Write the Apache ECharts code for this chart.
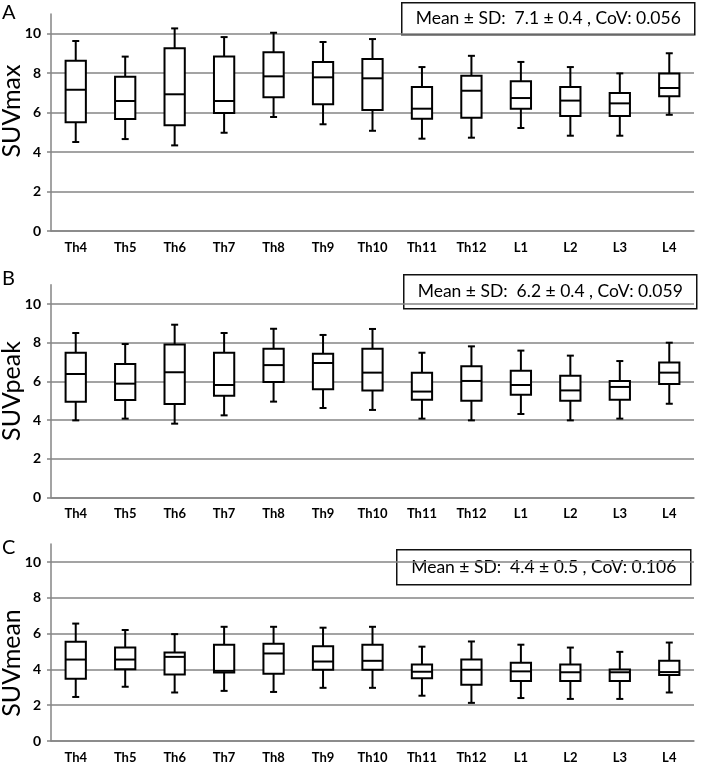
<!DOCTYPE html>
<html>
<head>
<meta charset="utf-8">
<script src="https://cdn.jsdelivr.net/npm/echarts@6/dist/echarts.min.js"></script>
<style>html,body{margin:0;padding:0;background:#fff;}#c{width:709px;height:764px;}</style>
</head>
<body>
<div id="c"></div>
<script>
const categories = ['Th4','Th5','Th6','Th7','Th8','Th9','Th10','Th11','Th12','L1','L2','L3','L4'];
const yTicks = [0, 2, 4, 6, 8, 10];
// each row: [min, Q1, median, Q3, max]
const suvMax = [
  [4.51,5.51,7.16,8.63,9.63],[4.66,5.68,6.59,7.82,8.84],[4.34,5.36,6.93,9.26,10.27],
  [4.98,5.98,6.59,8.84,9.83],[5.78,6.78,7.84,9.06,10.05],[5.41,6.42,7.79,8.57,9.58],
  [5.08,6.13,7.74,8.72,9.73],[4.68,5.69,6.20,7.30,8.31],[4.73,5.74,7.11,7.87,8.88],
  [5.22,6.20,6.74,7.59,8.57],[4.83,5.83,6.61,7.30,8.31],[4.83,5.83,6.47,6.99,7.99],
  [5.89,6.83,7.25,7.99,9.01]
];
const suvPeak = [
  [3.98,4.95,6.38,7.48,8.50],[4.07,5.03,5.88,6.90,7.93],[3.81,4.83,6.47,7.91,8.93],
  [4.24,5.26,5.81,7.48,8.50],[4.95,5.97,6.84,7.69,8.72],[4.62,5.59,6.95,7.43,8.40],
  [4.52,5.53,6.45,7.69,8.71],[4.07,5.05,5.47,6.45,7.48],[3.98,5.00,6.02,6.78,7.81],
  [4.31,5.31,5.81,6.55,7.59],[3.98,5.00,5.53,6.29,7.33],[4.07,5.05,5.71,6.02,7.05],
  [4.84,5.86,6.45,6.98,8.00]
];
const suvMean = [
  [2.46,3.48,4.55,5.54,6.56],[3.03,4.01,4.55,5.22,6.20],[2.71,3.71,4.70,4.95,5.97],
  [2.80,3.82,3.92,5.38,6.38],[2.74,3.76,4.89,5.43,6.38],[2.97,3.98,4.44,5.30,6.33],
  [2.97,3.98,4.48,5.38,6.38],[2.53,3.51,3.87,4.27,5.27],[2.13,3.14,3.98,4.55,5.56],
  [2.40,3.35,3.89,4.37,5.38],[2.35,3.35,3.84,4.27,5.22],[2.35,3.35,3.84,4.00,4.98],
  [2.71,3.69,3.85,4.48,5.50]
];
const panelTitles = ['SUVmax','SUVpeak','SUVmean'];
const panelLetters = ['A','B','C'];
const annotations = [
  'Mean \u00B1 SD:  7.1 \u00B1 0.4 , CoV: 0.056',
  'Mean \u00B1 SD:  6.2 \u00B1 0.4 , CoV: 0.059',
  'Mean \u00B1 SD:  4.4 \u00B1 0.5 , CoV: 0.106'
];
const panelData = [suvMax, suvPeak, suvMean];

const FONT = 'Lato, "Open Sans", sans-serif';
const grids = [
  {left: 51, right: 15, top: 14, bottom: 533},
  {left: 51, right: 15, top: 284.7, bottom: 266.7},
  {left: 51, right: 15, top: 544.1, bottom: 15.3}
];
const annotBoxes = [
  {x: 401, y: 2, w: 293, h: 32},
  {x: 403, y: 274, w: 293, h: 34},
  {x: 396, y: 549, w: 294, h: 35}
];
const titleCenters = [111, 391, 663];
const letterTops = [3, 269, 538];

function renderBox(params, api) {
  const idx = api.value(0);
  const vmin = api.value(1), q1 = api.value(2), med = api.value(3), q3 = api.value(4), vmax = api.value(5);
  const pMin = api.coord([idx, vmin]);
  const pQ1 = api.coord([idx, q1]);
  const pMed = api.coord([idx, med]);
  const pQ3 = api.coord([idx, q3]);
  const pMax = api.coord([idx, vmax]);
  const cx = pMed[0];
  const bw = api.size([1, 0])[0] * 0.41;
  const cap = 3.5;
  const st = {stroke: '#000', lineWidth: 2, fill: null};
  return {
    type: 'group',
    children: [
      {type: 'line', shape: {x1: cx, y1: pMax[1], x2: cx, y2: pQ3[1]}, style: st},
      {type: 'line', shape: {x1: cx, y1: pQ1[1], x2: cx, y2: pMin[1]}, style: st},
      {type: 'line', shape: {x1: cx - cap, y1: pMax[1], x2: cx + cap, y2: pMax[1]}, style: st},
      {type: 'line', shape: {x1: cx - cap, y1: pMin[1], x2: cx + cap, y2: pMin[1]}, style: st},
      {type: 'rect', shape: {x: cx - bw / 2, y: pQ3[1], width: bw, height: pQ1[1] - pQ3[1]},
        style: {stroke: '#000', lineWidth: 2, fill: '#fff'}},
      {type: 'line', shape: {x1: cx - bw / 2, y1: pMed[1], x2: cx + bw / 2, y2: pMed[1]}, style: st}
    ]
  };
}

const xAxes = [], yAxes = [], series = [], graphics = [];
for (let i = 0; i < 3; i++) {
  xAxes.push({
    type: 'category', gridIndex: i, data: categories, boundaryGap: true,
    axisLine: {show: true, lineStyle: {color: '#858585', width: 1.5}},
    axisTick: {show: false},
    axisLabel: {color: '#000', fontFamily: FONT, fontWeight: 'bold', fontSize: 13, margin: 10, interval: 0}
  });
  yAxes.push({
    type: 'value', gridIndex: i, min: 0, max: 11, interval: 2,
    axisLine: {show: true, lineStyle: {color: '#858585', width: 1.5}},
    axisTick: {show: true, length: 4, lineStyle: {color: '#858585', width: 1.5}},
    axisLabel: {color: '#000', fontFamily: FONT, fontWeight: 'bold', fontSize: 14, margin: 10,
      showMaxLabel: false,
      formatter: v => (yTicks.indexOf(v) >= 0 ? String(v) : '')},
    splitLine: {show: true, showMaxLine: false, lineStyle: {color: '#858585', width: 1.5}}
  });
  series.push({
    type: 'custom', xAxisIndex: i, yAxisIndex: i,
    renderItem: renderBox,
    encode: {x: 0, y: [1, 2, 3, 4, 5]},
    data: panelData[i].map((r, k) => [k].concat(r)),
    z: 5
  });
  const b = annotBoxes[i];
  graphics.push({
    type: 'group', left: b.x, top: b.y, z: 100,
    children: [
      {type: 'rect', shape: {x: 0, y: 0, width: b.w, height: b.h},
        style: {fill: '#fff', stroke: '#111', lineWidth: 1.5}},
      {type: 'text', x: b.w / 2, y: b.h / 2,
        style: {text: annotations[i], font: '17.5px ' + FONT, fill: '#000',
          textAlign: 'center', textVerticalAlign: 'middle'}}
    ]
  });
  graphics.push({
    type: 'text', x: 12, y: titleCenters[i], rotation: Math.PI / 2, z: 100,
    style: {text: panelTitles[i], font: '25px ' + FONT, fill: '#000',
      textAlign: 'center', textVerticalAlign: 'middle'}
  });
  graphics.push({
    type: 'text', left: 2, top: letterTops[i], z: 100,
    style: {text: panelLetters[i], font: '20px ' + FONT, fill: '#000'}
  });
}

const chart = echarts.init(document.getElementById('c'));
chart.setOption({
  animation: false,
  backgroundColor: '#fff',
  grid: grids,
  xAxis: xAxes,
  yAxis: yAxes,
  series: series,
  graphic: graphics
});
</script>
</body>
</html>
